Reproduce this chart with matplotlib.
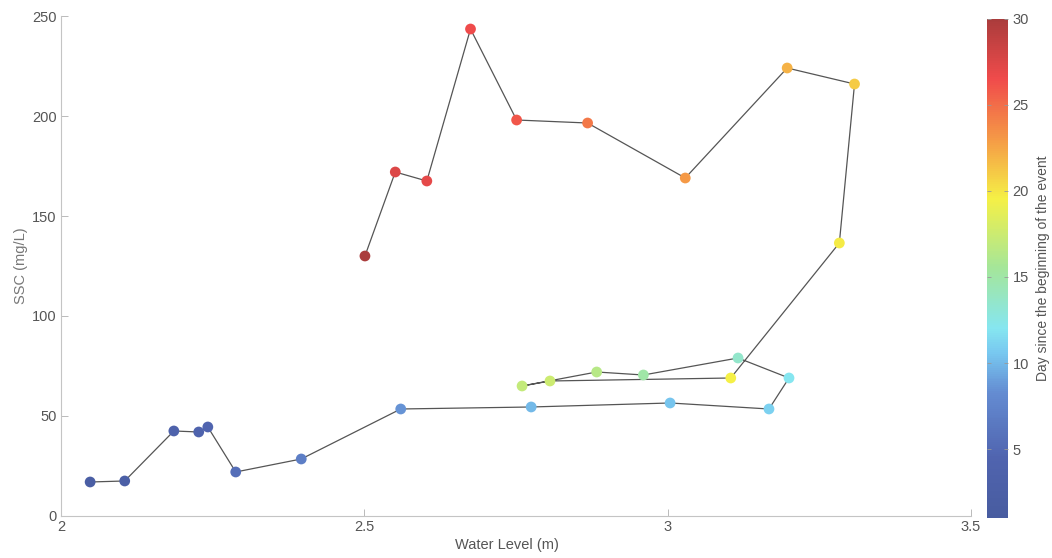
import matplotlib
matplotlib.use("Agg")
import matplotlib.pyplot as plt
from matplotlib.colors import LinearSegmentedColormap, Normalize
from matplotlib.cm import ScalarMappable

plt.rcParams["font.family"] = ["Liberation Sans", "DejaVu Sans"]

# hysteresis loop: water level vs suspended sediment, in time order
water_level = [2.048, 2.105, 2.186, 2.227, 2.242, 2.288, 2.396, 2.56,
               2.775, 3.004, 3.167, 3.2, 3.116, 2.96, 2.883, 2.76,
               2.806, 3.104, 3.283, 3.308, 3.197, 3.029, 2.868, 2.751,
               2.675, 2.603, 2.551, 2.501]
ssc = [17, 17.5, 42.5, 42, 44.5, 22, 28.5, 53.5,
       54.5, 56.5, 53.5, 69, 79, 70.5, 72, 65,
       67.5, 69, 136.5, 216, 224, 169, 196.5, 198,
       243.5, 167.5, 172, 130]
day = [2, 2.5, 3.5, 4, 4.5, 5.5, 7, 8.5,
       10, 10.5, 11, 12, 13.5, 15, 16.5, 17,
       17.5, 19.5, 19.8, 21, 22, 23, 24.5, 26,
       26.5, 27, 27.5, 30]

x_ticks = [2, 2.5, 3, 3.5]
y_ticks = [0, 50, 100, 150, 200, 250]
day_ticks = [5, 10, 15, 20, 25, 30]

# washed-out jet
cmap = LinearSegmentedColormap.from_list("soft_jet", [
    (0.00, "#485ca0"),
    (0.12, "#5064af"),
    (0.25, "#648cd2"),
    (0.33, "#78c8f0"),
    (0.38, "#86e6f0"),
    (0.50, "#a4e69a"),
    (0.64, "#f5f046"),
    (0.75, "#f5a046"),
    (0.88, "#f04b4b"),
    (1.00, "#aa3c3c"),
])
norm = Normalize(vmin=1, vmax=30)

fig = plt.figure(figsize=(10.52, 5.58), dpi=100)
ax = fig.add_axes([0.058, 0.0753, 0.865, 0.896])

ax.plot(water_level, ssc, color="#555555", lw=0.9, zorder=1)
ax.scatter(water_level, ssc, c=day, cmap=cmap, norm=norm, s=60,
           edgecolors="none", zorder=2)

ax.set_xlim(2, 3.5)
ax.set_ylim(0, 250)
ax.set_xticks(x_ticks)
ax.set_xticklabels(["2", "2.5", "3", "3.5"])
ax.set_yticks(y_ticks)

for side in ("top", "right"):
    ax.spines[side].set_visible(False)
for side in ("left", "bottom"):
    ax.spines[side].set_color("#c4c4c4")
    ax.spines[side].set_linewidth(0.8)
ax.tick_params(direction="in", length=5, width=0.6, color="#b0b0b0",
               labelcolor="#555555", labelsize=10.5, pad=3)

ax.set_xlabel("Water Level (m)", color="#555555", fontsize=10.5, labelpad=6)
ax.xaxis.set_label_coords(0.49, -0.045)
ax.set_ylabel("SSC (mg/L)", color="#777777", fontsize=10.5, labelpad=3)

cax = fig.add_axes([0.938, 0.0717, 0.02, 0.895])
cbar = fig.colorbar(ScalarMappable(norm=norm, cmap=cmap), cax=cax)
cbar.outline.set_visible(False)
cbar.set_ticks(day_ticks)
cax.tick_params(direction="in", length=3, width=0.6, color="#999999",
                labelcolor="#555555", labelsize=10.5, left=True, right=True)
cbar.set_label("Day since the beginning of the event", color="#555555",
               fontsize=10, labelpad=5)

fig.savefig("out.png", dpi=100)
